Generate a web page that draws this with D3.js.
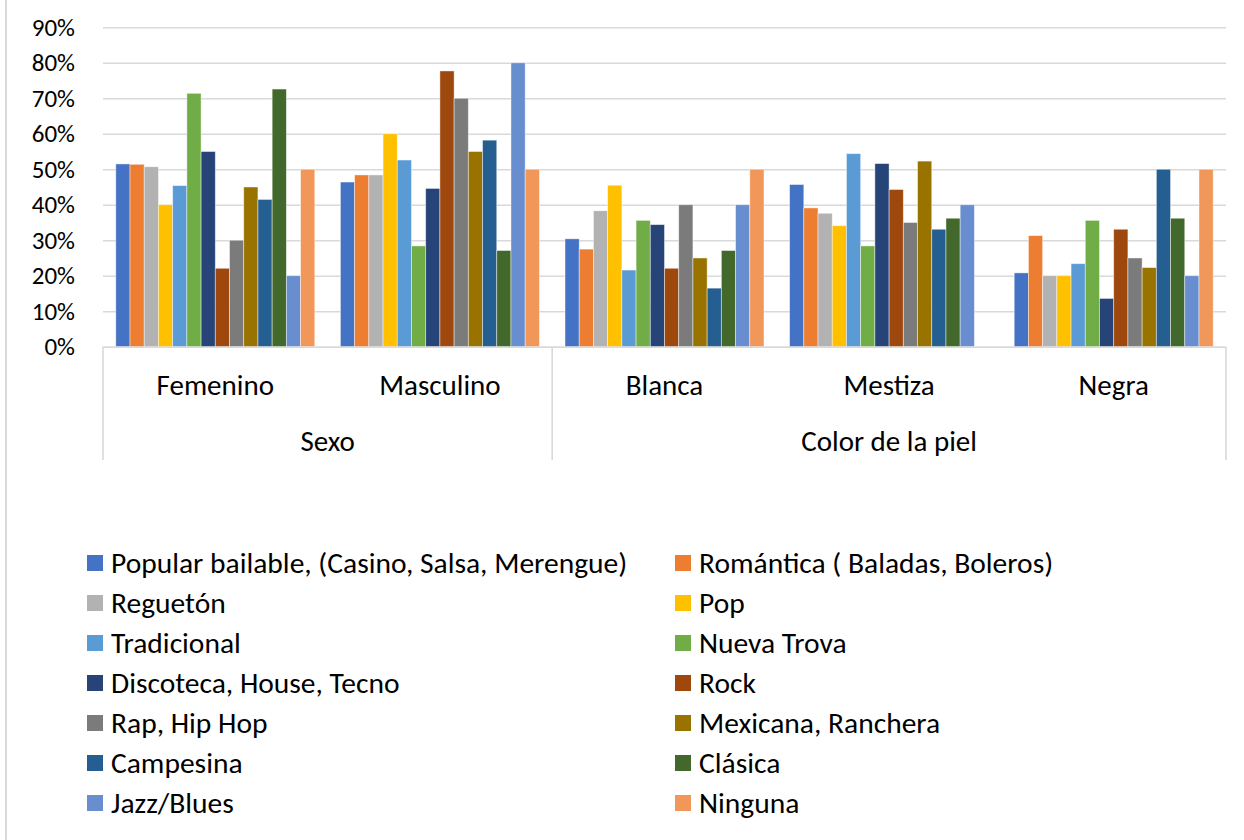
<!DOCTYPE html>
<html>
<head>
<meta charset="utf-8">
<script src="https://cdn.jsdelivr.net/npm/d3@7"></script>
<style>
  html, body { margin: 0; padding: 0; background: #fff; }
  svg { display: block; }
  text { font-family: Carlito, Lato, "Open Sans", sans-serif; fill: #000; }
</style>
</head>
<body>
<svg id="chart" width="1244" height="840"></svg>
<script>
// Categories (inner level) and their parent groups (outer level)
const categories = ["Femenino", "Masculino", "Blanca", "Mestiza", "Negra"];
const groupLabels = ["Sexo", "Color de la piel"];
const groupSizes = [2, 3];

// Music genres (series) and their percentages per category
const seriesNames = [
  "Popular bailable, (Casino, Salsa, Merengue)",
  "Romántica ( Baladas, Boleros)",
  "Reguetón",
  "Pop",
  "Tradicional",
  "Nueva Trova",
  "Discoteca, House, Tecno",
  "Rock",
  "Rap, Hip Hop",
  "Mexicana, Ranchera",
  "Campesina",
  "Clásica",
  "Jazz/Blues",
  "Ninguna"
];
const popularBailable = [51.5, 46.4, 30.4, 45.7, 20.8];
const romantica       = [51.4, 48.4, 27.5, 39.1, 31.3];
const regueton        = [50.7, 48.4, 38.3, 37.6, 20.0];
const pop             = [40.0, 60.0, 45.5, 34.1, 20.0];
const tradicional     = [45.4, 52.6, 21.6, 54.4, 23.4];
const nuevaTrova      = [71.4, 28.4, 35.6, 28.4, 35.6];
const discoteca       = [55.0, 44.6, 34.4, 51.6, 13.6];
const rock            = [22.1, 77.7, 22.1, 44.3, 33.1];
const rapHipHop       = [30.0, 70.0, 40.0, 35.0, 25.0];
const mexicana        = [45.0, 55.0, 25.0, 52.3, 22.3];
const campesina       = [41.5, 58.2, 16.5, 33.1, 50.0];
const clasica         = [72.6, 27.1, 27.1, 36.2, 36.2];
const jazzBlues       = [20.0, 80.0, 40.0, 40.0, 20.0];
const ninguna         = [50.0, 50.0, 50.0, 0.0, 50.0];

const yTicks = [0, 0.1, 0.2, 0.3, 0.4, 0.5, 0.6, 0.7, 0.8, 0.9];

const seriesValues = [popularBailable, romantica, regueton, pop, tradicional,
  nuevaTrova, discoteca, rock, rapHipHop, mexicana, campesina, clasica,
  jazzBlues, ninguna];

const colors = ["#4472C4", "#ED7D31", "#B2B2B2", "#FFC000", "#5B9BD5",
  "#70AD47", "#264478", "#9E480E", "#7B7B7B", "#997300", "#255E91",
  "#43682B", "#698ED0", "#F1975A"];

const svg = d3.select("#chart");
const plot = { left: 103, right: 1226, top: 27.3, bottom: 346.7 };
const tickFont = 25;
const labelFont = 29;
const legendFont = 29.5;

// Chart frame edge
svg.append("line")
  .attr("x1", 6).attr("x2", 6).attr("y1", 0).attr("y2", 840)
  .attr("stroke", "#d9d9d9").attr("stroke-width", 2);

const y = d3.scaleLinear().domain([0, 0.9]).range([plot.bottom, plot.top]);
const x0 = d3.scaleBand().domain(categories).range([plot.left, plot.right]).padding(0);
const inner = x0.bandwidth() * 0.057;
const x1 = d3.scaleBand().domain(d3.range(seriesNames.length))
  .range([inner, x0.bandwidth() - inner]).padding(0);

// Gridlines and y-axis labels
const yAxis = d3.axisLeft(y).tickValues(yTicks).tickFormat(d3.format(".0%"))
  .tickSize(-(plot.right - plot.left)).tickPadding(28);
const gy = svg.append("g").attr("transform", `translate(${plot.left},0)`).call(yAxis);
gy.select(".domain").remove();
gy.selectAll(".tick line").attr("stroke", "#d9d9d9").attr("stroke-width", 1.6);
gy.selectAll(".tick text").attr("font-size", tickFont).attr("fill", "#000")
  .style("font-family", "Carlito, Lato, 'Open Sans', sans-serif");

// Bars
const rows = [];
seriesValues.forEach((vals, s) => vals.forEach((v, c) => rows.push({ s, c, v: v / 100 })));
svg.append("g").selectAll("rect").data(rows.filter(d => d.v > 0)).join("rect")
  .attr("x", d => x0(categories[d.c]) + x1(d.s))
  .attr("width", x1.bandwidth())
  .attr("y", d => y(d.v))
  .attr("height", d => y(0) - y(d.v))
  .attr("fill", d => colors[d.s])
  .attr("stroke", "rgba(255,255,255,0.55)")
  .attr("stroke-width", 0.8);

// Horizontal category axis with multi-level separators
const axisG = svg.append("g").attr("stroke", "#d9d9d9").attr("stroke-width", 1.6);
axisG.append("line").attr("x1", plot.left).attr("x2", plot.right)
  .attr("y1", plot.bottom + 0.5).attr("y2", plot.bottom + 0.5);
const boundaries = [0];
groupSizes.reduce((acc, n) => { boundaries.push(acc + n); return acc + n; }, 0);
boundaries.forEach(i => {
  const xb = i < categories.length ? x0(categories[i]) : plot.right;
  axisG.append("line").attr("x1", xb).attr("x2", xb)
    .attr("y1", plot.bottom).attr("y2", 460);
});

svg.append("g").selectAll("text").data(categories).join("text")
  .attr("x", d => x0(d) + x0.bandwidth() / 2)
  .attr("y", 385)
  .attr("text-anchor", "middle").attr("dominant-baseline", "central")
  .attr("font-size", labelFont).text(d => d);

let start = 0;
groupLabels.forEach((g, i) => {
  const a = x0(categories[start]);
  const endIdx = start + groupSizes[i];
  const b = endIdx < categories.length ? x0(categories[endIdx]) : plot.right;
  svg.append("text").attr("x", (a + b) / 2).attr("y", 441)
    .attr("text-anchor", "middle").attr("dominant-baseline", "central")
    .attr("font-size", labelFont).text(g);
  start = endIdx;
});

// Legend in two columns
const legend = svg.append("g");
seriesNames.forEach((name, i) => {
  const col = i % 2, row = Math.floor(i / 2);
  const lx = col === 0 ? 87 : 675;
  const ly = 563 + row * 40;
  legend.append("rect").attr("x", lx).attr("y", ly - 8).attr("width", 16).attr("height", 16)
    .attr("fill", colors[i]);
  legend.append("text").attr("x", lx + 24).attr("y", ly)
    .attr("dominant-baseline", "central").attr("font-size", legendFont).text(name);
});
</script>
</body>
</html>
